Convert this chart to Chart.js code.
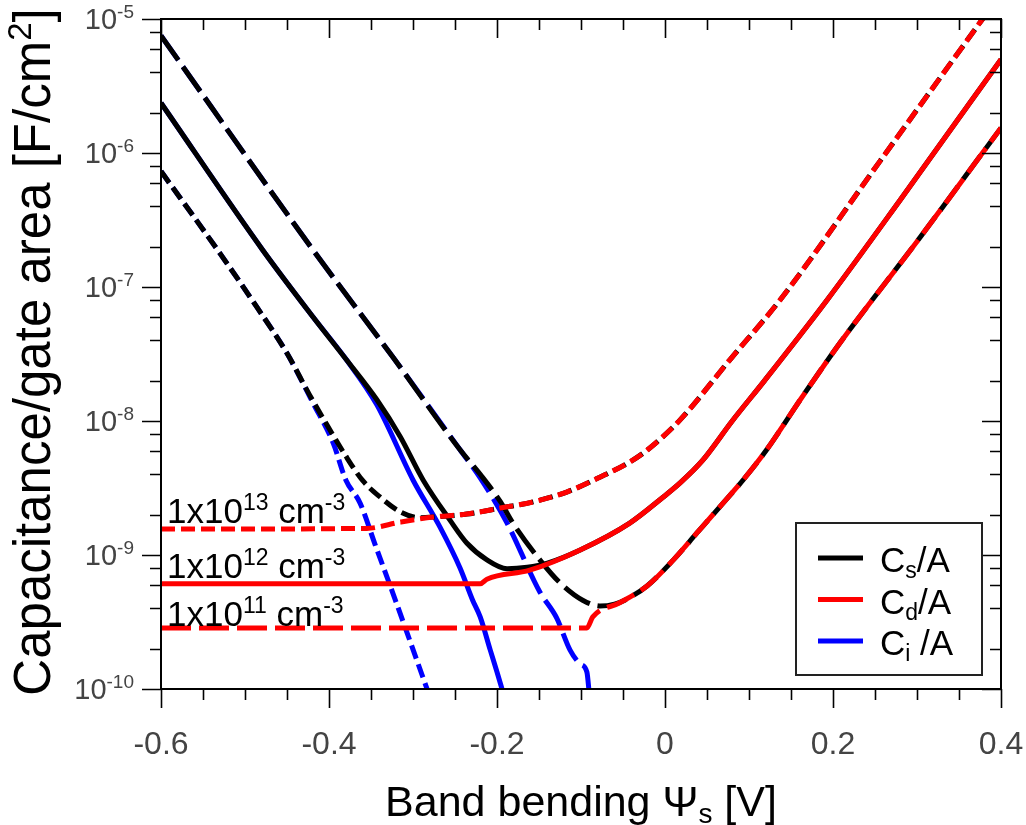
<!DOCTYPE html>
<html>
<head>
<meta charset="utf-8">
<script src="https://cdn.jsdelivr.net/npm/chart.js@4.4.0/dist/chart.umd.min.js"></script>
<style>
  html, body { margin: 0; padding: 0; background: #fff; }
  #wrap { width: 1026px; height: 825px; }
</style>
</head>
<body>
<div id="wrap"><canvas id="capChart" width="1026" height="825"></canvas></div>
<script>
// Axis ticks
const xTickValues = [-0.6, -0.4, -0.2, 0, 0.2, 0.4];
const xTickLabels = ['-0.6', '-0.4', '-0.2', '0', '0.2', '0.4'];
const yDecades = [-10, -9, -8, -7, -6, -5];
const yMinorFactors = [2, 4, 6, 8];

// Doping of the three curve families (cm^-3 exponent), legend names
const dopingExponents = ['13', '12', '11'];
const legendNames = [['C', 's', '/A'], ['C', 'd', '/A'], ['C', 'i', ' /A']];

// Series: [band bending (V), capacitance per gate area (F/cm2)]
// 1x10^13 cm^-3
const cd13 = [[-0.600, 1.56e-9], [-0.355, 1.58e-9], [-0.315, 1.76e-9], [-0.276, 1.92e-9], [-0.236, 2.02e-9],
    [-0.196, 2.24e-9], [-0.157, 2.49e-9], [-0.117, 2.95e-9], [-0.077, 3.82e-9], [-0.042, 4.94e-9],
    [-0.021, 6.08e-9], [0.018, 1.02e-8], [0.077, 2.85e-8], [0.137, 8.0e-8], [0.256, 8.7e-7],
    [0.377, 9.8e-6], [0.400, 1.55e-5]];
const cs13Left = [[-0.600, 7.3e-7], [-0.530, 1.79e-7], [-0.486, 7.1e-8], [-0.450, 3.2e-8], [-0.423, 1.56e-8],
    [-0.399, 8.6e-9], [-0.381, 5.6e-9], [-0.360, 3.6e-9], [-0.339, 2.7e-9], [-0.315, 2.1e-9], [-0.292, 1.9e-9]];
const ci13 = [[-0.600, 7.3e-7], [-0.530, 1.79e-7], [-0.486, 7.1e-8], [-0.450, 3.2e-8], [-0.419, 1.36e-8],
    [-0.395, 6.85e-9], [-0.380, 3.63e-9], [-0.363, 2.44e-9], [-0.345, 1.19e-9], [-0.324, 5.2e-10],
    [-0.304, 2.32e-10], [-0.282, 9.5e-11]];

// 1x10^12 cm^-3
const cd12 = [[-0.600, 6.1e-10], [-0.220, 6.1e-10], [-0.212, 6.6e-10], [-0.161, 7.7e-10], [-0.101, 1.09e-9],
    [-0.042, 1.73e-9], [-0.002, 2.71e-9], [0.018, 3.45e-9], [0.045, 5.1e-9], [0.080, 1.0e-8], [0.119, 2.02e-8],
    [0.193, 8.0e-8], [0.280, 4.46e-7], [0.400, 5.0e-6]];
const cs12Left = [[-0.600, 2.36e-6], [-0.479, 1.89e-7], [-0.419, 5.97e-8], [-0.379, 2.85e-8], [-0.343, 1.44e-8],
    [-0.315, 7.6e-9], [-0.288, 3.63e-9], [-0.256, 1.82e-9], [-0.236, 1.23e-9], [-0.212, 9.2e-10],
    [-0.188, 7.9e-10], [-0.164, 8.1e-10], [-0.140, 8.7e-10]];
const ci12 = [[-0.600, 2.36e-6], [-0.479, 1.89e-7], [-0.419, 5.97e-8], [-0.379, 2.85e-8], [-0.343, 1.32e-8],
    [-0.300, 3.63e-9], [-0.268, 1.62e-9], [-0.244, 8.0e-10], [-0.229, 4.6e-10], [-0.220, 3.45e-10],
    [-0.208, 1.95e-10], [-0.200, 1.34e-10], [-0.193, 9.5e-11]];

// 1x10^11 cm^-3
const cd11 = [[-0.600, 2.85e-10], [-0.093, 2.85e-10], [-0.086, 3.45e-10], [-0.054, 4.4e-10], [-0.021, 5.9e-10],
    [0.010, 9.2e-10], [0.038, 1.46e-9], [0.065, 2.28e-9], [0.093, 3.63e-9], [0.121, 6.1e-9],
    [0.161, 1.44e-8], [0.208, 3.8e-8], [0.304, 2.36e-7], [0.400, 1.54e-6]];
const cs11Left = [[-0.600, 7.5e-6], [-0.419, 1.89e-7], [-0.324, 3.0e-8], [-0.244, 6.1e-9], [-0.220, 4.0e-9],
    [-0.196, 2.5e-9], [-0.181, 1.73e-9], [-0.149, 9.2e-10], [-0.125, 6.2e-10], [-0.098, 4.6e-10],
    [-0.077, 4.16e-10], [-0.060, 4.3e-10], [-0.048, 4.6e-10]];
const ci11 = [[-0.600, 7.5e-6], [-0.419, 1.89e-7], [-0.324, 3.0e-8], [-0.244, 6.1e-9], [-0.220, 3.76e-9],
    [-0.188, 1.73e-9], [-0.149, 5.3e-10], [-0.129, 3.39e-10], [-0.113, 1.95e-10], [-0.101, 1.54e-10],
    [-0.093, 1.34e-10], [-0.090, 9.0e-11]];

// Cs joins Cd on the right side
const cs13 = cs13Left.concat(cd13.filter(p => p[0] > -0.28));
const cs12 = cs12Left.concat(cd12.filter(p => p[0] > -0.14));
const cs11 = cs11Left.concat(cd11.filter(p => p[0] > -0.04));

const FONT = "'Liberation Sans', Arial, sans-serif";
const BLACK = '#000000', RED = '#ff0000', BLUE = '#0000ff';
const DOTTED = [14, 6], DASHED = [30, 8];

function toXY(arr) {
    return arr.map(p => ({ x: p[0], y: p[1] }));
}

function series(arr, color, dash, order) {
    return {
        data: toXY(arr),
        borderColor: color,
        borderWidth: 5,
        borderDash: dash,
        pointRadius: 0,
        fill: false,
        cubicInterpolationMode: 'monotone',
        clip: 0,
        order: order
    };
}

// text made of pieces: [text, size, dy]
function drawRich(ctx, parts, x, y, align) {
    let w = 0;
    parts.forEach(p => { ctx.font = p[1] + 'px ' + FONT; w += ctx.measureText(p[0]).width; });
    let cx = align === 'right' ? x - w : (align === 'center' ? x - w / 2 : x);
    parts.forEach(p => {
        ctx.font = p[1] + 'px ' + FONT;
        ctx.fillText(p[0], cx, y + p[2]);
        cx += ctx.measureText(p[0]).width;
    });
}

const framePlugin = {
    id: 'frame',
    afterDraw(chart) {
        const { ctx, chartArea: a, scales } = chart;
        const xs = scales.x, ys = scales.y;
        ctx.save();
        ctx.strokeStyle = '#000';
        ctx.lineWidth = 2;
        ctx.strokeRect(a.left, a.top, a.right - a.left, a.bottom - a.top);

        // x ticks: outward at bottom, inward at top
        ctx.lineWidth = 1.6;
        ctx.beginPath();
        for (let i = 0; i <= 20; i++) {
            const px = Math.round(xs.getPixelForValue(-0.6 + i * 0.05)) + 0.5;
            const len = i % 4 === 0 ? 19 : 11;
            ctx.moveTo(px, a.bottom); ctx.lineTo(px, a.bottom + len);
            ctx.moveTo(px, a.top); ctx.lineTo(px, a.top + len);
        }
        // y ticks: outward at left, inward at right
        yDecades.forEach(d => {
            const vals = [[Math.pow(10, d), 19]];
            if (d < -5) yMinorFactors.forEach(f => vals.push([f * Math.pow(10, d), 11]));
            vals.forEach(v => {
                const py = Math.round(ys.getPixelForValue(v[0])) + 0.5;
                ctx.moveTo(a.left - v[1], py); ctx.lineTo(a.left, py);
                ctx.moveTo(a.right - v[1], py); ctx.lineTo(a.right, py);
            });
        });
        ctx.stroke();

        // tick labels
        ctx.fillStyle = '#444444';
        ctx.textBaseline = 'alphabetic';
        xTickValues.forEach((v, i) => {
            drawRich(ctx, [[xTickLabels[i], 32, 0]], xs.getPixelForValue(v), 754, 'center');
        });
        yDecades.forEach(d => {
            const py = ys.getPixelForValue(Math.pow(10, d));
            drawRich(ctx, [['10', 29, 0], [String(d), 19, -11]], a.left - 27, py + 10, 'right');
        });

        // axis titles
        ctx.fillStyle = '#000';
        drawRich(ctx, [['Band bending Ψ', 43, 0], ['s', 28, 7], [' [V]', 43, 0]],
            (a.left + a.right) / 2, 816, 'center');
        ctx.save();
        ctx.translate(50, (a.top + a.bottom) / 2 - 2);
        ctx.rotate(-Math.PI / 2);
        drawRich(ctx, [['Capacitance/gate area [F/cm', 51, 0], ['2', 33, -19], [']', 51, 0]], 0, 0, 'center');
        ctx.restore();

        // doping annotations above the flat Cd lines
        const flats = [cd13[0][1], cd12[0][1], cd11[0][1]];
        const lift = [6, 6, 2];
        flats.forEach((v, i) => {
            const py = ys.getPixelForValue(v) - lift[i];
            drawRich(ctx, [['1x10', 35, 0], [dopingExponents[i], 23, -13], [' cm', 35, 0], ['-3', 23, -13]],
                a.left + 6, py, 'left');
        });

        // legend
        const lx = 796, ly = 523;
        ctx.fillStyle = '#fff';
        ctx.fillRect(lx, ly, 186, 152);
        ctx.strokeStyle = '#222';
        ctx.lineWidth = 2;
        ctx.strokeRect(lx, ly, 186, 152);
        const colors = [BLACK, RED, BLUE];
        legendNames.forEach((n, i) => {
            const ry = ly + 35 + i * 41.5;
            ctx.strokeStyle = colors[i];
            ctx.lineWidth = 5;
            ctx.beginPath();
            ctx.moveTo(lx + 22, ry); ctx.lineTo(lx + 67, ry);
            ctx.stroke();
            ctx.fillStyle = '#000';
            drawRich(ctx, [[n[0], 35, 0], [n[1], 23, 6], [n[2], 35, 0]], lx + 84, ry + 14, 'left');
        });
        ctx.restore();
    }
};

new Chart(document.getElementById('capChart'), {
    type: 'line',
    data: {
        datasets: [
            series(ci13, BLUE, DOTTED, 3),
            series(ci12, BLUE, [], 3),
            series(ci11, BLUE, DASHED, 3),
            series(cs13, BLACK, DOTTED, 2),
            series(cs12, BLACK, [], 2),
            series(cs11, BLACK, DASHED, 2),
            series(cd13, RED, DOTTED, 1),
            series(cd12, RED, [], 1),
            series(cd11, RED, DASHED, 1)
        ]
    },
    options: {
        responsive: false,
        animation: false,
        events: [],
        layout: { padding: { left: 161, right: 25, top: 19, bottom: 136 } },
        scales: {
            x: { type: 'linear', min: -0.6, max: 0.4, display: false },
            y: { type: 'logarithmic', min: 1e-10, max: 1e-5, display: false }
        },
        plugins: {
            legend: { display: false },
            tooltip: { enabled: false }
        }
    },
    plugins: [framePlugin]
});
</script>
</body>
</html>
